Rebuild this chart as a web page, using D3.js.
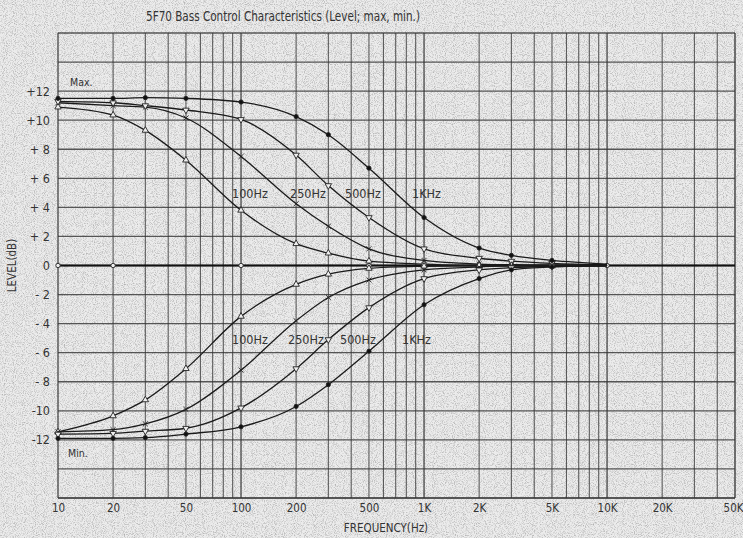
<!DOCTYPE html>
<html>
<head>
<meta charset="utf-8">
<script src="https://cdn.jsdelivr.net/npm/d3@7"></script>
<style>
  body { margin: 0; background: #e6e6e6; }
  svg { display: block; }
  text { font-family: "Liberation Sans Narrow", "DejaVu Sans Condensed", sans-serif; fill: #333; }
</style>
</head>
<body>
<div id="chart"></div>
<script>
// frequencies where the points were measured
const freqs = [10, 20, 30, 50, 100, 200, 300, 500, 1000, 2000, 3000, 5000, 10000];

// bass at max (boost), one series per turnover
const max100 = [10.9, 10.35, 9.3, 7.25, 3.8, 1.5, 0.85, 0.3, 0.1, 0, 0, 0, 0];
const max250 = [11.2, 11.0, 10.9, 10.15, 7.5, 4.25, 2.7, 1.15, 0.35, 0.1, 0.05, 0, 0];
const max500 = [11.3, 11.2, 11.0, 10.7, 10.05, 7.6, 5.5, 3.3, 1.15, 0.5, 0.3, 0.15, 0.05];
const max1k = [11.5, 11.5, 11.55, 11.5, 11.25, 10.25, 9.0, 6.7, 3.3, 1.2, 0.7, 0.35, 0.1];

// bass at min (cut)
const min100 = [-11.45, -10.35, -9.25, -7.1, -3.5, -1.3, -0.6, -0.2, -0.05, 0, 0, 0, 0];
const min250 = [-11.45, -11.3, -10.9, -9.9, -7.2, -3.8, -2.2, -1.0, -0.3, -0.1, 0, 0, 0];
const min500 = [-11.6, -11.55, -11.4, -11.2, -9.8, -7.1, -5.1, -2.9, -0.9, -0.3, -0.15, -0.05, 0];
const min1k = [-11.9, -11.9, -11.85, -11.6, -11.1, -9.7, -8.2, -5.9, -2.7, -0.9, -0.3, -0.1, 0];

// flat (center) setting
const flatFreqs = [10, 20, 100, 500, 1000, 2000, 5000, 10000, 50000];
const flatLevel = [0, 0, 0, 0, 0, 0, 0, 0, 0];

const xTickValues = [10, 20, 50, 100, 200, 500, 1000, 2000, 5000, 10000, 20000, 50000];
const xTickLabels = ["10", "20", "50", "100", "200", "500", "1K", "2K", "5K", "10K", "20K", "50K"];
const yTickValues = [12, 10, 8, 6, 4, 2, 0, -2, -4, -6, -8, -10, -12];
const yTickLabels = ["+12", "+10", "+ 8", "+ 6", "+ 4", "+ 2", "0", "- 2", "- 4", "- 6", "- 8", "-10", "-12"];

const labelsTop = ["100Hz", "250Hz", "500Hz", "1KHz"];
const labelsBottom = ["100Hz", "250Hz", "500Hz", "1KHz"];

const width = 743, height = 538;
const margin = { top: 33, right: 8, bottom: 40, left: 58 };

const svg = d3.select("#chart").append("svg")
  .attr("width", width)
  .attr("height", height);

// paper speckle
const defs = svg.append("defs");
const f = defs.append("filter").attr("id", "grain").attr("x", 0).attr("y", 0).attr("width", "100%").attr("height", "100%");
f.append("feTurbulence").attr("type", "fractalNoise").attr("baseFrequency", 1.1).attr("numOctaves", 1).attr("seed", 4);
f.append("feColorMatrix").attr("type", "matrix")
  .attr("values", "0 0 0 0 0.25  0 0 0 0 0.25  0 0 0 0 0.25  -2.6 0 0 0 1.45");
svg.append("rect").attr("width", width).attr("height", height).attr("fill", "#ececec");
svg.append("rect").attr("width", width).attr("height", height).attr("filter", "url(#grain)").attr("opacity", 0.6);

const x = d3.scaleLog().domain([10, 50000]).range([margin.left, width - margin.right]);
const y = d3.scaleLinear().domain([-16, 16]).range([height - margin.bottom, margin.top]);

// log grid
const gridX = [];
for (let dec = 10; dec < 50000; dec *= 10) {
  for (let k = 1; k < 10; k++) {
    const v = dec * k;
    if (v <= 50000) gridX.push(v);
  }
}
gridX.push(50000);

svg.append("g")
  .selectAll("line")
  .data(gridX)
  .join("line")
  .attr("x1", d => x(d)).attr("x2", d => x(d))
  .attr("y1", y(16)).attr("y2", y(-16))
  .attr("stroke", "#3a3a3a")
  .attr("stroke-width", d => Math.abs(Math.log10(d) % 1) < 1e-9 ? 1.5 : 1.1)
  .attr("opacity", 0.8);

svg.append("g")
  .selectAll("line")
  .data(d3.range(-16, 17, 2))
  .join("line")
  .attr("x1", x(10)).attr("x2", x(50000))
  .attr("y1", d => y(d)).attr("y2", d => y(d))
  .attr("stroke", "#333")
  .attr("stroke-width", d => (d === -16 ? 1.8 : 1.3))
  .attr("opacity", 0.8);

// axes
const xAxis = d3.axisBottom(x).tickValues(xTickValues).tickSize(0)
  .tickFormat((d, i) => xTickLabels[i]);
const gx = svg.append("g").attr("transform", `translate(0,${y(-16)})`).call(xAxis);
gx.select(".domain").remove();
gx.selectAll("text").attr("dy", "0.95em").attr("font-size", 11.5).style("font-family", null);
gx.selectAll(".tick").filter(d => d === 50000).select("text")
  .attr("text-anchor", "end").attr("x", width - x(50000));

const yAxis = d3.axisLeft(y).tickValues(yTickValues).tickSize(0)
  .tickFormat((d, i) => yTickLabels[i]);
const gy = svg.append("g").attr("transform", `translate(${x(10) - 5},0)`).call(yAxis);
gy.select(".domain").remove();
gy.selectAll("text").attr("font-size", 12.5).style("font-family", null);

svg.append("text")
  .attr("x", 146).attr("y", 21)
  .attr("font-size", 14.5)
  .attr("textLength", 274).attr("lengthAdjust", "spacingAndGlyphs")
  .text("5F70 Bass Control Characteristics (Level; max, min.)");

svg.append("text")
  .attr("x", 386).attr("y", 532)
  .attr("text-anchor", "middle").attr("font-size", 11.5)
  .text("FREQUENCY(Hz)");

svg.append("text")
  .attr("transform", `translate(16,${y(0)}) rotate(-90)`)
  .attr("text-anchor", "middle").attr("font-size", 11.5)
  .text("LEVEL(dB)");

svg.append("text").attr("x", 70).attr("y", 86).attr("font-size", 10.5).text("Max.");
svg.append("text").attr("x", 68).attr("y", 457).attr("font-size", 10.5).text("Min.");

// curves
const line = d3.line()
  .x(d => x(d[0]))
  .y(d => y(d[1]))
  .curve(d3.curveMonotoneX);

const symCross = d3.symbolTimes || d3.symbolCross;
const series = [
  { vals: max100, sym: d3.symbolTriangle, fill: "none", rot: 0 },
  { vals: max250, sym: symCross, fill: "none", rot: 0 },
  { vals: max500, sym: d3.symbolTriangle, fill: "none", rot: 180 },
  { vals: max1k, sym: d3.symbolCircle, fill: "#111", rot: 0 },
  { vals: min100, sym: d3.symbolTriangle, fill: "none", rot: 0 },
  { vals: min250, sym: symCross, fill: "none", rot: 0 },
  { vals: min500, sym: d3.symbolTriangle, fill: "none", rot: 180 },
  { vals: min1k, sym: d3.symbolCircle, fill: "#111", rot: 0 }
];

const flatPts = flatFreqs.map((f, i) => [f, flatLevel[i]]);
svg.append("path")
  .attr("d", line(flatPts))
  .attr("fill", "none").attr("stroke", "#111").attr("stroke-width", 1.9);
svg.append("g").selectAll("circle")
  .data(flatPts.slice(0, -1))
  .join("circle")
  .attr("cx", d => x(d[0])).attr("cy", d => y(d[1])).attr("r", 2.2)
  .attr("fill", "#eee").attr("stroke", "#222").attr("stroke-width", 0.9);

series.forEach(s => {
  const pts = freqs.map((f, i) => [f, s.vals[i]]);
  svg.append("path")
    .attr("d", line(pts))
    .attr("fill", "none").attr("stroke", "#1a1a1a").attr("stroke-width", 1.3);
  svg.append("g").selectAll("path")
    .data(pts.slice(0, -1))
    .join("path")
    .attr("d", d3.symbol().type(s.sym).size(s.sym === d3.symbolCircle ? 14 : 18))
    .attr("transform", d => `translate(${x(d[0])},${y(d[1])}) rotate(${s.rot})`)
    .attr("fill", s.fill === "none" ? "#eee" : s.fill)
    .attr("stroke", "#222").attr("stroke-width", 0.9);
});

// curve labels
const topX = [232, 290, 345, 412];
svg.append("g").selectAll("text")
  .data(labelsTop)
  .join("text")
  .attr("x", (d, i) => topX[i]).attr("y", 198)
  .attr("font-size", 12.5).attr("fill", "#222")
  .text(d => d);
const botX = [232, 288, 340, 402];
svg.append("g").selectAll("text")
  .data(labelsBottom)
  .join("text")
  .attr("x", (d, i) => botX[i]).attr("y", 344)
  .attr("font-size", 12.5).attr("fill", "#222")
  .text(d => d);
</script>
</body>
</html>
